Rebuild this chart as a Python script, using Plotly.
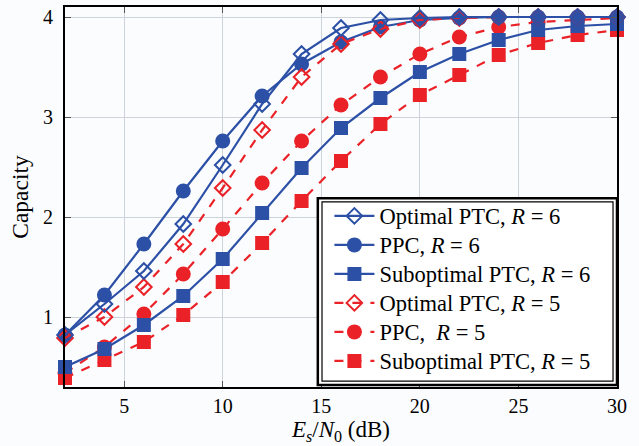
import plotly.graph_objects as go

snr = [2, 4, 6, 8, 10, 12, 14, 16, 18, 20, 22, 24, 26, 28, 30]

opt_r6 = [0.82, 1.13, 1.46, 1.93, 2.52, 3.13, 3.63, 3.89, 3.97, 3.99, 4.0, 4.0, 4.0, 4.0, 4.0]
ppc_r6 = [0.82, 1.22, 1.73, 2.26, 2.76, 3.21, 3.53, 3.75, 3.90, 3.97, 3.99, 4.0, 4.0, 4.0, 4.0]
sub_r6 = [0.50, 0.68, 0.92, 1.21, 1.58, 2.04, 2.49, 2.89, 3.19, 3.45, 3.63, 3.77, 3.87, 3.91, 3.93]
opt_r5 = [0.79, 1.00, 1.30, 1.73, 2.29, 2.87, 3.40, 3.73, 3.88, 3.97, 3.99, 4.0, 4.0, 4.0, 4.0]
ppc_r5 = [0.44, 0.70, 1.03, 1.43, 1.88, 2.34, 2.76, 3.12, 3.40, 3.63, 3.80, 3.90, 3.95, 3.97, 3.99]
sub_r5 = [0.39, 0.57, 0.75, 1.02, 1.35, 1.74, 2.16, 2.56, 2.93, 3.22, 3.42, 3.62, 3.74, 3.82, 3.87]

names = ["Optimal PTC, <i>R</i> = 6", "PPC, <i>R</i> = 6", "Suboptimal PTC, <i>R</i> = 6",
         "Optimal PTC, <i>R</i> = 5", "PPC,  <i>R</i> = 5", "Suboptimal PTC, <i>R</i> = 5"]

BLUE = "#2c50a6"
RED = "#ea2228"
FONT = "Liberation Serif"

series = [
    (ppc_r5, 4, RED, "dash", "circle", 15),
    (sub_r5, 5, RED, "dash", "square", 14),
    (sub_r6, 2, BLUE, "solid", "square", 14),
    (ppc_r6, 1, BLUE, "solid", "circle", 15),
    (opt_r5, 3, RED, "dash", "diamond-open", 12),
    (opt_r6, 0, BLUE, "solid", "diamond-open", 12),
]

fig = go.Figure()
for y, idx, col, dash, sym, size in series:
    name = names[idx]
    fig.add_trace(go.Scatter(
        x=snr, y=y,
        name="<span style='font-size:22.5px'>" + name + "</span>",
        mode="lines+markers",
        line=dict(color=col, width=2.2, dash=dash),
        marker=dict(symbol=sym, size=size, color=col,
                    line=dict(color=col, width=2 if "open" in sym else 0)),
        cliponaxis=False,
        legendgroup="g%d" % idx, legendrank=idx,
    ))

# legend frame (double border)
fig.add_shape(type="rect", xref="paper", yref="paper", x0=0.458, x1=1.0, y0=0.005, y1=0.497,
              line=dict(color="black", width=2.5), fillcolor="white", layer="above")
fig.add_shape(type="rect", xref="paper", yref="paper", x0=0.4656, x1=0.9928, y0=0.0157, y1=0.487,
              line=dict(color="black", width=1.2), layer="above")

axis_common = dict(
    showline=True, linecolor="black", linewidth=2, mirror="ticks",
    ticks="inside", ticklen=6, tickcolor="#555", tickwidth=1,
    showgrid=True, gridcolor="#cdd3da", gridwidth=1, zeroline=False,
    tickfont=dict(family=FONT, size=20, color="black"),
)

fig.update_layout(
    width=639, height=446,
    margin=dict(l=65, r=22, t=5, b=59),
    paper_bgcolor="#fbfcfe", plot_bgcolor="#fbfcfe",
    font=dict(family=FONT, color="black"),
    xaxis=dict(range=[2, 30], tickvals=[5, 10, 15, 20, 25, 30],
               title=dict(text="<i>E<sub>s</sub></i>/<i>N</i><sub>0</sub> (dB)",
                          font=dict(family=FONT, size=23), standoff=4),
               **axis_common),
    yaxis=dict(range=[0.3, 4.1], tickvals=[1, 2, 3, 4], ticklabelstandoff=6,
               title=dict(text="Capacity", font=dict(family=FONT, size=23.5), standoff=8),
               **axis_common),
    legend=dict(x=0.479, y=0.5016, xanchor="left", yanchor="top",
                bgcolor="rgba(0,0,0,0)", borderwidth=0,
                font=dict(family=FONT, size=20, color="black"),
                tracegroupgap=0, itemwidth=40),
    showlegend=True,
)

fig.write_html("out.html")
